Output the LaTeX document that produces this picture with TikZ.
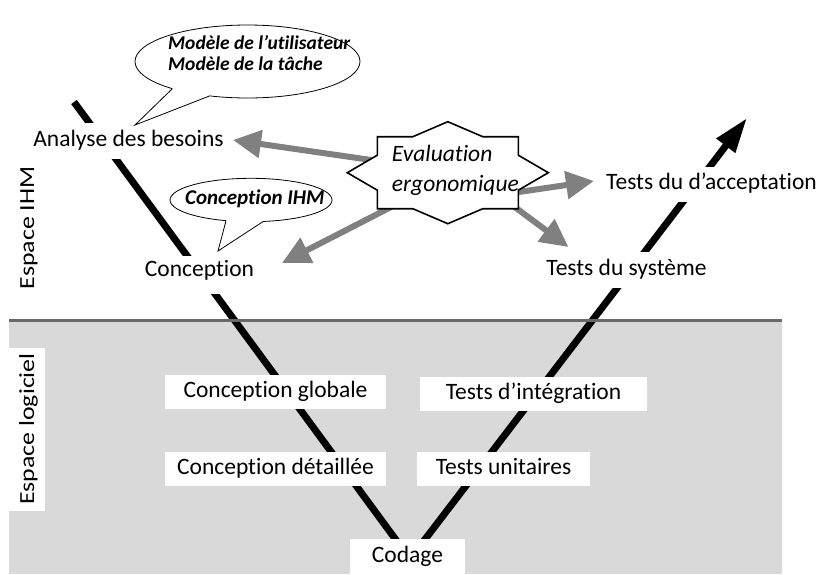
\documentclass[tikz,border=0pt]{standalone}
\usepackage{fontspec}
\setmainfont{Carlito}[Ligatures=NoCommon]
\usetikzlibrary{arrows.meta,calc,shapes.geometric}
\definecolor{bggray}{RGB}{217,217,217}
\definecolor{sepgray}{RGB}{105,105,105}
\definecolor{arrgray}{RGB}{128,128,128}
\tikzset{
  lbl/.style={font=\fontsize{23.5}{28}\selectfont, fill=white, inner xsep=2pt, inner ysep=0pt, anchor=base},
  gbox/.style={lbl, inner xsep=0pt, text height=22pt, text depth=12pt},
  sidelbl/.style={font=\fontsize{21.5}{26}\selectfont, rotate=90, inner sep=0pt, text height=16pt, text depth=2pt},
  bubble/.style={ellipse, draw=black, line width=0.8pt, fill=white, inner sep=0pt},
  bubtext/.style={font=\bfseries\itshape, inner sep=0pt, anchor=base west},
  evtext/.style={font=\fontsize{23.5}{28}\selectfont\itshape, inner sep=0pt, anchor=base west},
  vline/.style={line width=7pt, black},
  garrow/.style={line width=6pt, arrgray, -{Triangle[length=28pt,width=27pt]}},
}
\begin{document}
\begin{tikzpicture}[x=1pt,y=-1pt]
\useasboundingbox (0,0) rectangle (821,574);
% software space background
\fill[bggray] (9,320) rectangle (782,574);

% V lines
\coordinate (vTopL) at (74,102);
\coordinate (vBot) at (410,559);
\coordinate (vTip) at (747,118);
\draw[vline] (vTopL) -- (vBot);
\draw[vline, -{Triangle[length=35pt,width=22pt]}] (vBot) -- (vTip);

% separator
\draw[sepgray, line width=3pt] (9,320) -- (782,320);

% side labels
\node[sidelbl] (eihm) at (27,228) {\scalebox{1.2}[1]{Espace IHM}};
\node[sidelbl, fill=white, minimum width=163pt, minimum height=36pt] (elog) at (27,429) {\scalebox{1.2}[1]{Espace logiciel}};

% upper labels
\node[lbl, text height=24pt, text depth=12pt] (analyse) at (128.5,146.7) {Analyse des besoins};
\node[lbl, text height=21pt, text depth=17pt] (conc) at (199.5,276.5) {Conception};
\node[lbl, text height=22pt, text depth=13pt] (accept) at (711.5,189.3) {Tests du d’acceptation};
\node[lbl, text height=23pt, text depth=13pt] (sys) at (626.5,275) {Tests du système};

% lower labels
\node[gbox, minimum width=221pt] (cglob) at (275.5,397.3) {Conception globale};
\node[gbox, minimum width=227pt] (tint) at (533.5,399) {Tests d’intégration};
\node[gbox, minimum width=221pt] (cdet) at (275.5,474) {Conception détaillée};
\node[gbox, minimum width=173pt] (tunit) at (503.5,474) {Tests unitaires};
\node[gbox, minimum width=115pt, text height=23pt, text depth=14pt] (codage) at (407.5,562) {Codage};

% gray arrows from the evaluation star
\coordinate (s1) at (385,162);  \coordinate (t1) at (233,140);
\coordinate (s2) at (395,205);  \coordinate (t2) at (282,263);
\coordinate (s3) at (505,194);  \coordinate (t3) at (594,181);
\coordinate (s4) at (508,202);  \coordinate (t4) at (568.5,247);
\draw[garrow] (s1) -- (t1);
\draw[garrow] (s2) -- (t2);
\draw[garrow] (s3) -- (t3);
\draw[garrow] (s4) -- (t4);

% evaluation star
\coordinate (evc) at (447.8,172.7);
\begin{scope}[shift={(evc)}]
\draw[line width=1.6pt, fill=white, line join=miter]
  (0,-51) -- (35,-36) -- (70.5,-36) -- (70.5,-17.5) -- (100.5,0) -- (70.5,17.5) -- (70.5,36)
  -- (35,36) -- (0,51) -- (-35,36) -- (-70.5,36) -- (-70.5,17.5) -- (-100.5,0)
  -- (-70.5,-17.5) -- (-70.5,-36) -- (-35,-36) -- cycle;
\end{scope}
\node[evtext] (evalA) at (391.7,161.7) {Evaluation};
\node[evtext] (evalB) at (391.7,191.7) {ergonomique};

% callout 1
\node[bubble, minimum width=225pt, minimum height=73pt] (bubA) at (247.5,61.5) {};
\coordinate (tipA) at (135,125);
\fill[white] ($(bubA.200)+(3,-3)$) -- (bubA.200) -- (tipA) -- (bubA.222) -- ($(bubA.222)+(1,-4)$) -- cycle;
\draw[line width=0.8pt, line join=miter] (bubA.200) -- (tipA) -- (bubA.222);
\node[bubtext, font=\fontsize{19.5}{22}\selectfont\bfseries\itshape] (modA) at (168,49.3) {Modèle de l’utilisateur};
\node[bubtext, font=\fontsize{19.5}{22}\selectfont\bfseries\itshape] (modB) at (168,70) {Modèle de la tâche};

% callout 2
\node[bubble, minimum width=162pt, minimum height=43.4pt] (bubB) at (251,200) {};
\coordinate (tipB) at (218,251);
\fill[white] ($(bubB.220)+(2,-3)$) -- (bubB.220) -- (tipB) -- (bubB.298) -- ($(bubB.298)+(-1,-3)$) -- cycle;
\draw[line width=0.8pt, line join=miter] (bubB.220) -- (tipB) -- (bubB.298);
\node[bubtext, font=\fontsize{21}{24}\selectfont\bfseries\itshape] (cihm) at (185,204) {Conception IHM};
\end{tikzpicture}
\end{document}
